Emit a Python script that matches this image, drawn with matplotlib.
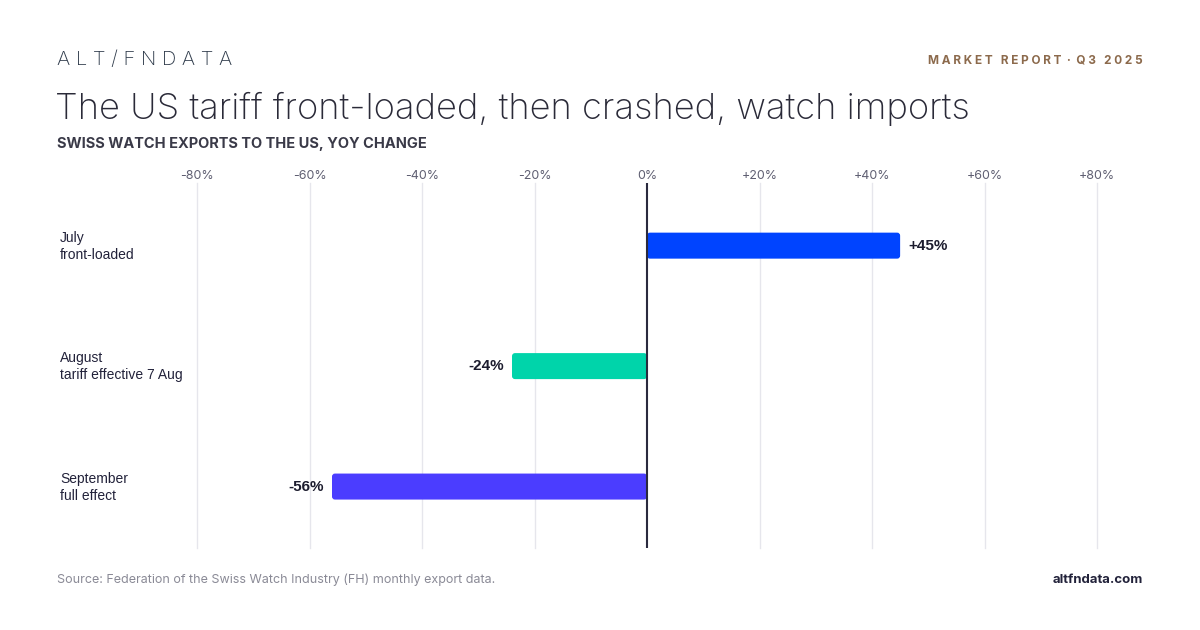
import numpy as np
import matplotlib
matplotlib.use("Agg")
import matplotlib.pyplot as plt
from matplotlib.patches import FancyBboxPatch

months = ["July", "August", "September"]
notes = ["front-loaded", "tariff effective 7 Aug", "full effect"]
yoy_change = [45, -24, -56]
bar_colors = ["#0044ff", "#00d4aa", "#4b3dff"]
tick_values = [-80, -60, -40, -20, 0, 20, 40, 60, 80]

plt.rcParams["font.family"] = ["Inter", "DejaVu Sans"]

fig = plt.figure(figsize=(12, 6.3), dpi=100)
fig.patch.set_facecolor("white")

# plot area in figure pixels: x 197..1097, y 183..548
ax = fig.add_axes([197 / 1200, 1 - 548 / 630, 900 / 1200, 365 / 630])
ax.set_xlim(-80, 80)
ax.set_ylim(2.51, -0.52)

for v in tick_values:
    if v != 0:
        ax.axvline(v, color="#e6e6ec", lw=1, zorder=0, clip_on=False)

# rounded bars, aspect corrected so corners stay round in pixels
px_x = 900 / 160
px_y = 365 / 3.03
bar_h = 26 / px_y
for i, (val, col) in enumerate(zip(yoy_change, bar_colors)):
    x0 = min(0, val)
    patch = FancyBboxPatch((x0, i - bar_h / 2), abs(val), bar_h,
                           boxstyle="round,pad=0,rounding_size=%f" % (3 / px_x),
                           mutation_aspect=px_x / px_y,
                           facecolor=col, edgecolor="none", zorder=2)
    ax.add_patch(patch)
    label = f"{val:+d}%"
    if val >= 0:
        ax.text(val + 8 / px_x, i, label, ha="left", va="center", fontsize=11,
                fontweight="bold", color="#1c1c2e", family=["Liberation Sans"])
    else:
        ax.text(val - 8 / px_x, i, label, ha="right", va="center", fontsize=11,
                fontweight="bold", color="#1c1c2e", family=["Liberation Sans"])

ax.axvline(0, color="#2a2a3e", lw=1.5, zorder=3)

ax.xaxis.tick_top()
ax.set_xticks(tick_values)
ax.set_xticklabels(["0%" if v == 0 else f"{v:+d}%" for v in tick_values])
ax.tick_params(axis="x", length=0, pad=0.5, labelsize=9, labelcolor="#5f5f72")
ax.set_yticks([])
for s in ax.spines.values():
    s.set_visible(False)

# category labels, left of the plot
for i, (m, n) in enumerate(zip(months, notes)):
    y = ax.transData.transform((0, i))[1]
    fig.text(60 / 1200, (y + 8) / 630, m, ha="left", va="center", fontsize=10,
             color="#22223a", family=["Liberation Sans"])
    fig.text(60 / 1200, (y - 9) / 630, n, ha="left", va="center", fontsize=10,
             color="#22223a", family=["Liberation Sans"])

# header
fig.text(57 / 1200, 1 - 60 / 630, "A L T / F N D A T A", ha="left", va="center",
         fontsize=14.5, fontweight="light", color="#2e3a4a")
fig.text(1143 / 1200, 1 - 60 / 630, "M A R K E T   R E P O R T  ·  Q 3   2 0 2 5",
         ha="right", va="center", fontsize=8.5, fontweight="bold", color="#8c6a4c")
fig.text(55 / 1200, 1 - 109 / 630, "The US tariff front-loaded, then crashed, watch imports",
         ha="left", va="center", fontsize=26.2, fontweight="light", color="#2a2a38")
fig.text(57 / 1200, 1 - 144 / 630, "SWISS WATCH EXPORTS TO THE US, YOY CHANGE",
         ha="left", va="center", fontsize=10.5, fontweight="bold", color="#3a3a48")

# footer
fig.text(57 / 1200, 1 - 580 / 630,
         "Source: Federation of the Swiss Watch Industry (FH) monthly export data.",
         ha="left", va="center", fontsize=9, color="#8a8a96")
fig.text(1143 / 1200, 1 - 580 / 630, "altfndata.com", ha="right", va="center",
         fontsize=9.5, fontweight="bold", color="#22223a")

fig.savefig("out.png", dpi=100, facecolor="white")
